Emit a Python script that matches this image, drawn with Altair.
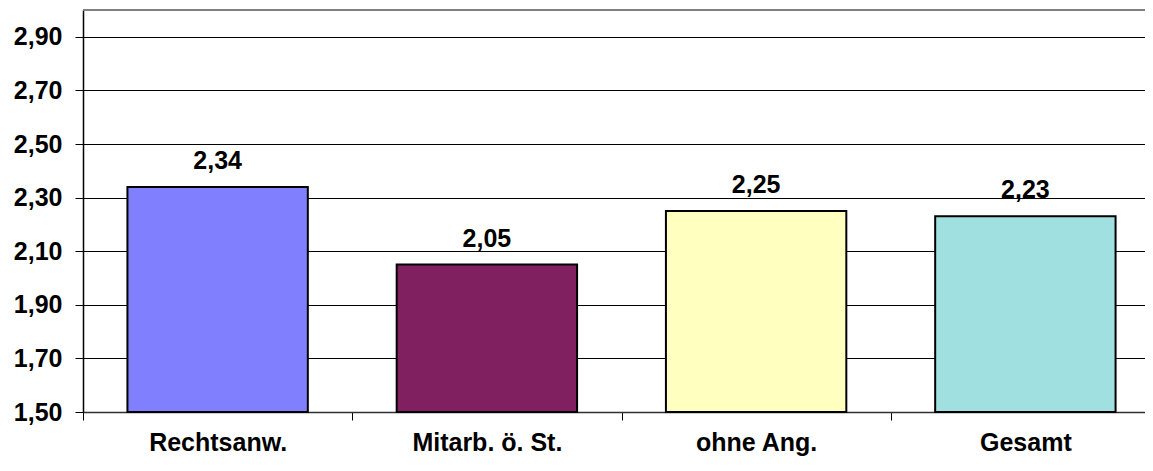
import altair as alt
import pandas as pd

categories = ["Rechtsanw.", "Mitarb. ö. St.", "ohne Ang.", "Gesamt"]
values = [2.34, 2.05, 2.25, 2.23]
colors = ["#8080FF", "#802060", "#FFFFC0", "#A0E0E0"]
y_ticks = [1.5, 1.7, 1.9, 2.1, 2.3, 2.5, 2.7, 2.9]
y_domain = [1.5, 3.0]

df = pd.DataFrame({"cat": categories, "val": values, "col": colors})

FONT = "Liberation Sans"
FS = 25
W = 1077
H = 402

x_enc = alt.X(
    "cat:N",
    sort=categories,
    scale=alt.Scale(paddingInner=0, paddingOuter=0),
    axis=alt.Axis(
        title=None,
        labelAngle=0,
        labelFont=FONT,
        labelFontSize=FS,
        labelFontWeight="bold",
        labelColor="black",
        labelPadding=10,
        tickBand="extent",
        tickSize=8,
        tickColor="black",
        domainColor="#303030",
        domainWidth=1.5,
        grid=False,
    ),
)

y_scale = alt.Scale(domain=y_domain, zero=False, nice=False)

bars = alt.Chart(df).mark_bar(
    stroke="black", strokeWidth=2, width=alt.RelativeBandSize(0.67)
).encode(
    x=x_enc,
    y=alt.Y(
        "val:Q",
        scale=y_scale,
        axis=alt.Axis(
            title=None,
            values=y_ticks,
            labelExpr="replace(format(datum.value, '.2f'), '.', ',')",
            labelFont=FONT,
            labelFontSize=FS,
            labelFontWeight="bold",
            labelColor="black",
            labelPadding=13,
            tickSize=8,
            tickColor="black",
            domainColor="black",
            domainWidth=1.5,
            grid=True,
            gridColor="black",
            gridWidth=1,
        ),
    ),
    y2=alt.datum(1.5),
    color=alt.Color("col:N", scale=None, legend=None),
)

labels = alt.Chart(df).transform_calculate(
    lab="replace(format(datum.val, '.2f'), '.', ',')"
).mark_text(
    font=FONT, fontSize=FS, fontWeight="bold", color="black",
    baseline="alphabetic", dy=-18
).encode(
    x=alt.X("cat:N", sort=categories),
    y=alt.Y("val:Q"),
    text="lab:N",
)

top_border = alt.Chart(df).mark_rule(color="#808080", strokeWidth=2).encode(
    y=alt.datum(3.0),
    x=alt.value(0),
    x2=alt.value(W),
)

chart = alt.layer(bars, labels, top_border).properties(
    width=W,
    height=H,
    autosize=alt.AutoSizeParams(type="none"),
    padding={"left": 75, "top": 2, "right": -15, "bottom": 46},
).configure_view(stroke=None).configure(background="white")

chart.save("out.html", embed_options={"renderer": "svg", "actions": False})
